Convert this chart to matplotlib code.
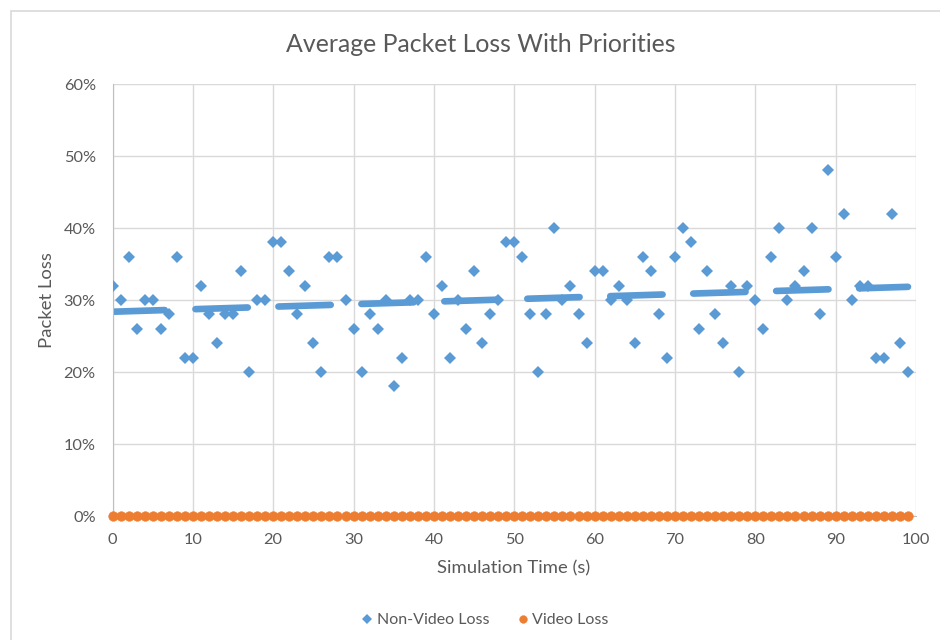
import numpy as np
import matplotlib
matplotlib.use("Agg")
import matplotlib.pyplot as plt
from matplotlib.patches import Rectangle
from matplotlib.ticker import FuncFormatter

# ---- data ----
sim_time = list(range(100))
non_video_loss = [
    32, 30, 36, 26, 30, 30, 26, 28, 36, 22,
    22, 32, 28, 24, 28, 28, 34, 20, 30, 30,
    38, 38, 34, 28, 32, 24, 20, 36, 36, 30,
    26, 20, 28, 26, 30, 18, 22, 30, 30, 36,
    28, 32, 22, 30, 26, 34, 24, 28, 30, 38,
    38, 36, 28, 20, 28, 40, 30, 32, 28, 24,
    34, 34, 30, 32, 30, 24, 36, 34, 28, 22,
    36, 40, 38, 26, 34, 28, 24, 32, 20, 32,
    30, 26, 36, 40, 30, 32, 34, 40, 28, 48,
    36, 42, 30, 32, 32, 22, 22, 42, 24, 20,
]
video_loss = [0] * 100
x_ticks = list(range(0, 101, 10))
y_ticks = list(range(0, 61, 10))

title = "Average Packet Loss With Priorities"
x_label = "Simulation Time (s)"
y_label = "Packet Loss"
series_names = ["Non-Video Loss", "Video Loss"]

BLUE = "#5B9BD5"
ORANGE = "#ED7D31"
TEXT = "#595959"
GRID = "#D9D9D9"

plt.rcParams['font.family'] = ['Lato', 'DejaVu Sans']

fig = plt.figure(figsize=(9.4, 6.4), dpi=100)
W, H = 940, 640

# chart border
fig.patches.append(Rectangle((11 / W, -0.2), 1.5, 1.2 - 11 / H,
                             transform=fig.transFigure, fill=False,
                             edgecolor=GRID, linewidth=1.2))

ax = fig.add_axes([112.5 / W, 1 - 516 / H, (916 - 112.5) / W, (516 - 84) / H])

x = np.array(sim_time, dtype=float)
y = np.array(non_video_loss, dtype=float)

# trendline (linear fit)
coef = np.polyfit(x, y, 1)
tx = np.array([x[0], x[-1]])
ax.plot(tx, np.polyval(coef, tx), color=BLUE, linewidth=4.8,
        dashes=(7.85, 4.6), dash_capstyle='round', zorder=2)

ax.plot(x, y, linestyle='none', marker='D', markersize=6.4,
        color=BLUE, markeredgewidth=0, zorder=3, label=series_names[0])
ax.plot(sim_time, video_loss, linestyle='none', marker='o', markersize=7.0,
        color=ORANGE, markeredgecolor=ORANGE, markeredgewidth=0.3,
        zorder=4, clip_on=False, label=series_names[1])

ax.set_xlim(0, 100)
ax.set_ylim(0, 60)
ax.set_xticks(x_ticks)
ax.set_yticks(y_ticks)
ax.yaxis.set_major_formatter(FuncFormatter(lambda v, p: f"{v:.0f}%"))
ax.grid(True, color=GRID, linewidth=1.0, zorder=0)
ax.set_axisbelow(True)
for s in ['top', 'right']:
    ax.spines[s].set_visible(False)
ax.spines['left'].set_color('#BFBFBF')
ax.spines['bottom'].set_color('#BFBFBF')
ax.tick_params(axis='both', length=0, labelsize=11.8, colors=TEXT)
ax.tick_params(axis='y', pad=12)
ax.tick_params(axis='x', pad=12)

ax.set_xlabel(x_label, fontsize=13.3, color=TEXT)
ax.set_ylabel(y_label, fontsize=13.3, color=TEXT)
ax.xaxis.set_label_coords(0.5 + (513 - 514) / 803.5, -0.103)
ax.yaxis.set_label_coords(-0.0716, 0.5)

fig.text(481 / W, 1 - 44 / H, title, ha='center', va='center',
         fontsize=17.9, color=TEXT)

leg = fig.legend(loc='center', bbox_to_anchor=(484 / W, 1 - 620 / H), ncol=2,
                 frameon=False, fontsize=11.5, handletextpad=0.1,
                 columnspacing=1.6, handlelength=1.0, markerscale=0.8)
for t in leg.get_texts():
    t.set_color(TEXT)

fig.savefig("out.png", dpi=100)
